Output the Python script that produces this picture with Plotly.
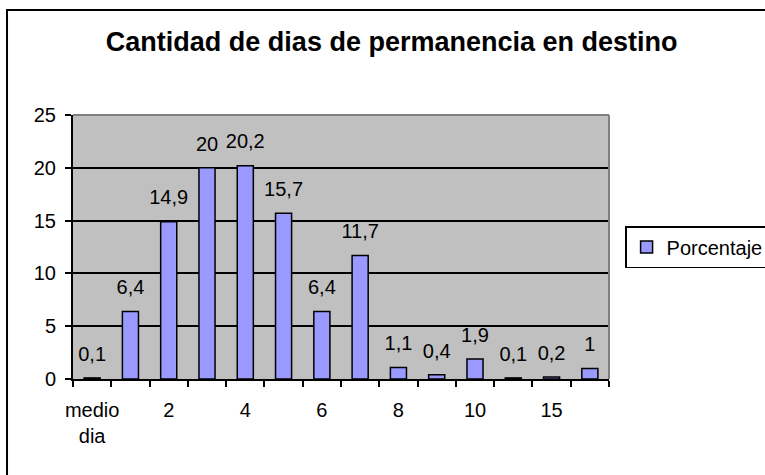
import plotly.graph_objects as go

categories = ["medio dia", "1", "2", "3", "4", "5", "6", "7", "8", "9", "10", "12", "15", "30"]
tick_labels = ["medio<br>dia", "", "2", "", "4", "", "6", "", "8", "", "10", "", "15", ""]
porcentaje = [0.1, 6.4, 14.9, 20, 20.2, 15.7, 6.4, 11.7, 1.1, 0.4, 1.9, 0.1, 0.2, 1]

FONT = "Arial, Liberation Sans, sans-serif"


def fmt(v):
    return f"{v:g}".replace(".", ",")


fig = go.Figure()
fig.add_trace(
    go.Bar(
        x=categories,
        y=porcentaje,
        name="Porcentaje",
        marker=dict(color="#9999FF", line=dict(color="black", width=1.5)),
    )
)
# data labels, Excel style, sitting a bit above each bar
# (invisible markers only push the text up)
fig.add_trace(
    go.Scatter(
        x=categories,
        y=porcentaje,
        mode="markers+text",
        text=[fmt(v) for v in porcentaje],
        textposition="top center",
        textfont=dict(family=FONT, size=20, color="black"),
        marker=dict(size=18, opacity=0),
        showlegend=False,
        hoverinfo="skip",
        cliponaxis=False,
    )
)

# grey plot-area border on top/right, black frame around the whole chart
fig.add_shape(type="line", xref="paper", yref="paper", x0=0, x1=1, y0=1, y1=1,
              line=dict(color="#808080", width=2), layer="above")
fig.add_shape(type="line", xref="paper", yref="paper", x0=1, x1=1, y0=0, y1=1,
              line=dict(color="#808080", width=2), layer="above")
fig.add_shape(type="rect", xref="paper", yref="paper", x0=-0.1231, x1=1.5, y0=-0.6, y1=1.3977,
              line=dict(color="black", width=2), layer="above")

fig.update_layout(
    width=765,
    height=475,
    title=dict(
        text="<b>Cantidad de dias de permanencia en destino</b>",
        x=0.512,
        xanchor="center",
        y=0.912,
        yanchor="middle",
        font=dict(family=FONT, size=27, color="black"),
    ),
    font=dict(family=FONT, size=20, color="black"),
    paper_bgcolor="white",
    plot_bgcolor="#C0C0C0",
    bargap=0.58,
    showlegend=True,
    legend=dict(
        x=1.03,
        y=0.5795,
        xanchor="left",
        yanchor="top",
        bgcolor="white",
        bordercolor="black",
        borderwidth=1.5,
        font=dict(family=FONT, size=20, color="black"),
    ),
    margin=dict(l=73, r=156, t=115, b=96, autoexpand=False),
    xaxis=dict(
        type="category",
        range=[-0.5, len(categories) - 0.5],
        tickmode="array",
        tickvals=categories,
        ticktext=tick_labels,
        tickangle=0,
        tickson="boundaries",
        ticks="outside",
        ticklen=6,
        tickwidth=2,
        tickcolor="black",
        ticklabelstandoff=12,
        showline=True,
        linecolor="black",
        linewidth=2,
        showgrid=False,
        tickfont=dict(family=FONT, size=20, color="black"),
    ),
    yaxis=dict(
        range=[0, 25],
        dtick=5,
        ticks="outside",
        ticklen=6,
        tickwidth=2,
        tickcolor="black",
        ticklabelstandoff=5,
        showline=True,
        linecolor="black",
        linewidth=2,
        showgrid=True,
        gridcolor="black",
        gridwidth=1.5,
        zeroline=False,
        tickfont=dict(family=FONT, size=20, color="black"),
    ),
)

fig.write_html(
    "out.html",
    config={"displayModeBar": False},
    post_script="document.body.style.margin = '0';",
)
